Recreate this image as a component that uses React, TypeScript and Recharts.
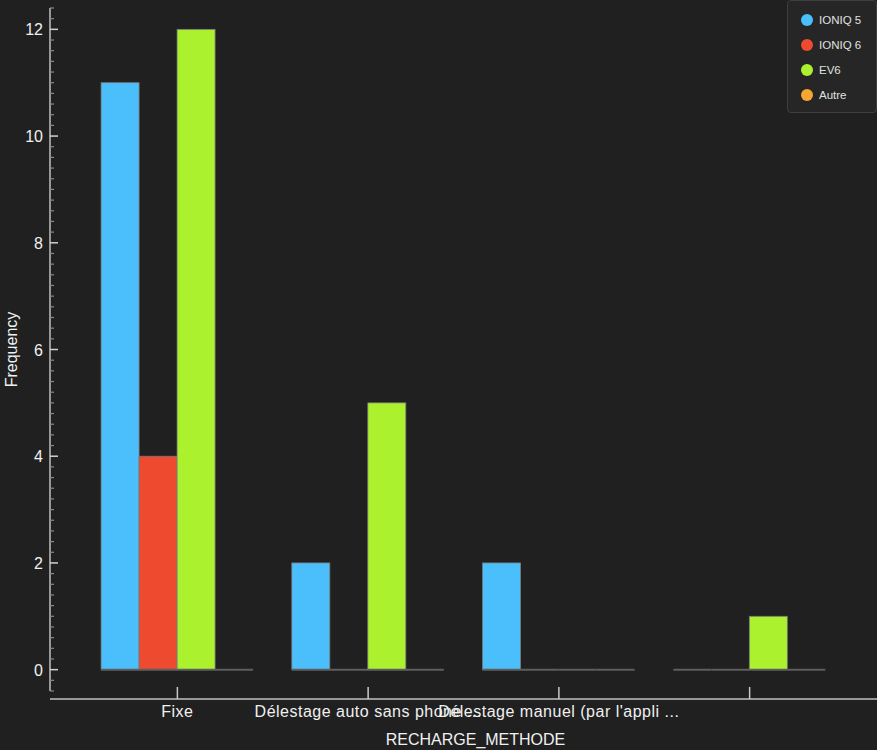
import React from 'react';
import { BarChart, Bar, XAxis, YAxis, ReferenceLine } from 'recharts';

const categories = ['Fixe', 'Délestage auto sans phone ...', "Délestage manuel (par l'appli ...", ''];
const ioniq5 = [11, 2, 2, 0];
const ioniq6 = [4, 0, 0, 0];
const ev6 = [12, 5, 0, 1];
const autre = [0, 0, 0, 0];
const majorTicks = [0, 2, 4, 6, 8, 10, 12];

const series = [
    { key: 'IONIQ 5', values: ioniq5, color: '#4bbffc' },
    { key: 'IONIQ 6', values: ioniq6, color: '#ee4a30' },
    { key: 'EV6', values: ev6, color: '#acf12e' },
    { key: 'Autre', values: autre, color: '#f7a731' },
];

const data = categories.map((name, i) => {
    const row: any = { name };
    series.forEach(s => { row[s.key] = s.values[i]; });
    return row;
});

// minor ticks every 0.2 across the visible range
const allTicks: number[] = [];
for (let k = -2; k <= 62; k++) allTicks.push(Math.round(k * 20) / 100);

const FONT = '"Liberation Sans", Arial, sans-serif';

const BarShape = (props: any) => {
    const { x, y, width, height, fill } = props;
    const bottom = y + height;
    return (
        <g>
            {height > 0 && <rect x={x} y={y} width={width} height={height} fill={fill} stroke="#7a7a7a" strokeWidth={0.8} />}
            <line x1={x} x2={x + width} y1={bottom} y2={bottom} stroke="#5e5e5e" strokeWidth={2} />
        </g>
    );
};

const YTick = (props: any) => {
    const { x, y, payload } = props;
    const v = payload.value;
    const major = majorTicks.some(t => Math.abs(t - v) < 1e-6);
    return (
        <g>
            <line x1={x} x2={x + (major ? 8 : 4)} y1={y} y2={y} stroke={major ? '#d0d0d0' : '#8a8a8a'} strokeWidth={major ? 1.5 : 1.2} />
            {major && (
                <text x={x - 7} y={y} dy={6} textAnchor="end" fill="#f0f0f0" fontSize={16} fontFamily={FONT}>
                    {Math.round(v)}
                </text>
            )}
        </g>
    );
};

const XTick = (props: any) => {
    const { x, y, payload } = props;
    return (
        <g>
            <line x1={x} x2={x} y1={y - 4} y2={y + 8} stroke="#c8c8c8" strokeWidth={1.5} />
            <text x={x} y={y + 26} textAnchor="middle" fill="#f0f0f0" fontSize={16} letterSpacing={0.5} fontFamily={FONT}>
                {payload.value}
            </text>
        </g>
    );
};

const LegendBox = () => (
    <div style={{
        position: 'absolute', top: 0, right: 0, width: 90, height: 113, background: '#262626',
        border: '1px solid #3e3e3e', borderRadius: 4, boxSizing: 'border-box', paddingTop: 6, paddingLeft: 13, fontFamily: FONT,
    }}>
        {series.map(s => (
            <div key={s.key} style={{ display: 'flex', alignItems: 'center', height: 25 }}>
                <span style={{ width: 12, height: 12, borderRadius: 6, background: s.color, display: 'inline-block', marginRight: 6 }} />
                <span style={{ color: '#e0e0e0', fontSize: 11.5 }}>{s.key}</span>
            </div>
        ))}
    </div>
);

export default function App() {
    return (
        <div style={{ position: 'fixed', left: 0, top: 0, width: 877, height: 750, background: '#202020' }}>
            <BarChart width={877} height={750} data={data} margin={{ top: 8, right: 0, bottom: 0, left: 0 }}
                barCategoryGap="10%" barGap={0}>
                <XAxis dataKey="name" height={59} axisLine={false} tickLine={false} tickSize={0} tickMargin={0}
                    padding={{ left: 32, right: 32 }} interval={0} tick={<XTick />}
                    label={{ value: 'RECHARGE_METHODE', position: 'insideBottom', offset: 5, dx: 12, fill: '#f0f0f0', fontSize: 16, fontFamily: FONT }} />
                <YAxis width={50} domain={[-0.4, 12.4]} allowDataOverflow ticks={allTicks} interval={0}
                    tickSize={0} tickMargin={0} tick={<YTick />} axisLine={{ stroke: '#c0c0c0', strokeWidth: 1.5 }} tickLine={false}
                    label={{ value: 'Frequency', angle: -90, position: 'insideLeft', offset: 11, textAnchor: 'middle', fill: '#f0f0f0', fontSize: 16, fontFamily: FONT }} />
                <ReferenceLine y={-0.55} ifOverflow="visible" stroke="#c0c0c0" strokeWidth={1.5} />
                {series.map(s => (
                    <Bar key={s.key} dataKey={s.key} fill={s.color} isAnimationActive={false} shape={<BarShape />} />
                ))}
            </BarChart>
            <LegendBox />
        </div>
    );
}
